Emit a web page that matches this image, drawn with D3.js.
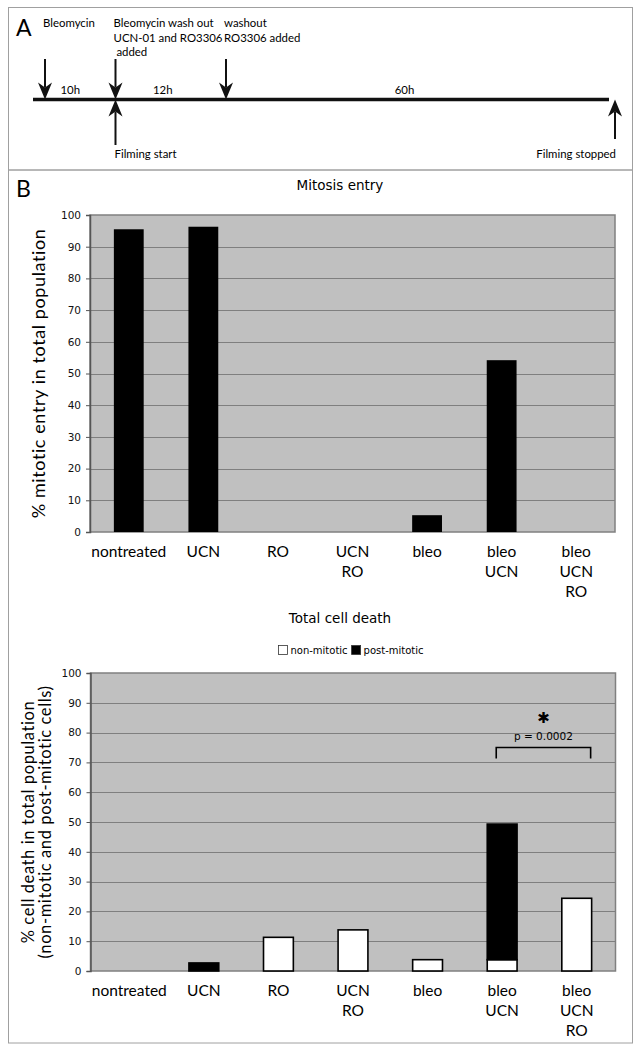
<!DOCTYPE html>
<html>
<head>
<meta charset="utf-8">
<script src="https://cdn.jsdelivr.net/npm/d3@7"></script>
<style>
  body { margin: 0; background: #fff; }
  svg { display: block; }
</style>
</head>
<body>
<div id="figure"></div>
<script>
// Data
const categories = ["nontreated", "UCN", "RO", "UCN RO", "bleo", "bleo UCN", "bleo UCN RO"];
const mitosisEntry = [95.5, 96.3, 0, 0, 5.3, 54.2, 0];
const nonMitoticDeath = [0, 0, 11.3, 13.8, 3.8, 3.8, 24.4];
const postMitoticDeath = [0, 2.7, 0, 0, 0, 45.5, 0];
const yTicks = [0, 10, 20, 30, 40, 50, 60, 70, 80, 90, 100];
const legendLabels = ["non-mitotic", "post-mitotic"];

// Timeline (panel A), hours since bleomycin
const eventHours = [0, 10, 22, 82];
const intervalLabels = ["10h", "12h", "60h"];
const topLabels = [["Bleomycin"], ["Bleomycin wash out", "UCN-01 and RO3306", " added"], ["washout", "RO3306 added"], []];
const bottomLabels = ["", "Filming start", "", "Filming stopped"];

const width = 641;
const height = 1050;
const sansMyriad = "Lato, 'Open Sans', sans-serif";
const sansVerdana = "'DejaVu Sans', Verdana, sans-serif";

const svg = d3.select("#figure")
    .append("svg")
    .attr("width", width)
    .attr("height", height);

// Panel frames
svg.append("rect").attr("x", 8.5).attr("y", 7.5).attr("width", 624).attr("height", 162.5)
    .attr("fill", "none").attr("stroke", "#a0a0a0");
svg.append("rect").attr("x", 8.5).attr("y", 170).attr("width", 624).attr("height", 873)
    .attr("fill", "none").attr("stroke", "#a0a0a0");

// ---------- Panel A: timeline ----------
svg.append("text").attr("x", 16).attr("y", 36).text("A")
    .style("font-family", sansMyriad).style("font-size", "23px");

// schematic, not to scale
const tx = d3.scaleLinear().domain(eventHours).range([45, 115.5, 226, 615]);
const lineY = 99.5;
const labelSize = "11.4px";

svg.append("line").attr("x1", 33).attr("x2", 609).attr("y1", lineY).attr("y2", lineY)
    .attr("stroke", "#111").attr("stroke-width", 3.5);

function arrowHead(x, tipY, dir) {
    // dir = 1 pointing down, -1 pointing up
    const b = tipY - dir * 17;
    const n = tipY - dir * 12;
    return `M${x},${tipY} L${x - 7},${b} L${x},${n} L${x + 7},${b} Z`;
}

eventHours.forEach((h, i) => {
    const x = tx(h);
    if (i < 3) {
        svg.append("line").attr("x1", x).attr("x2", x).attr("y1", 59).attr("y2", lineY - 12)
            .attr("stroke", "#111").attr("stroke-width", 2);
        svg.append("path").attr("d", arrowHead(x, lineY, 1)).attr("fill", "#111");
    }
    if (bottomLabels[i]) {
        svg.append("line").attr("x1", x).attr("x2", x).attr("y1", lineY + 12).attr("y2", i === 3 ? 139 : 145)
            .attr("stroke", "#111").attr("stroke-width", 2);
        svg.append("path").attr("d", arrowHead(x, lineY, -1)).attr("fill", "#111");
        svg.append("text")
            .attr("x", i === 3 ? x + 1 : x - 1)
            .attr("y", 158)
            .attr("text-anchor", i === 3 ? "end" : "start")
            .text(bottomLabels[i])
            .style("font-family", sansMyriad).style("font-size", labelSize);
    }
    topLabels[i].forEach((t, j) => {
        svg.append("text")
            .attr("x", x - 2)
            .attr("y", 27 + j * 14.5)
            .attr("xml:space", "preserve")
            .text(t)
            .style("font-family", sansMyriad).style("font-size", labelSize);
    });
});

intervalLabels.forEach((t, i) => {
    const mid = (tx(eventHours[i]) + tx(eventHours[i + 1])) / 2;
    svg.append("text")
        .attr("x", mid - (i === 0 ? 10 : i === 1 ? 8 : 16))
        .attr("y", 94)
        .attr("text-anchor", "middle")
        .text(t)
        .style("font-family", sansMyriad).style("font-size", labelSize);
});

svg.append("text").attr("x", 16).attr("y", 197).text("B")
    .style("font-family", sansMyriad).style("font-size", "23px");

// ---------- Bar chart helper ----------
function drawChart(box, title, titleY, yLabelLines, yLabelX, yLabelSize, series) {
    const x = d3.scaleBand()
        .domain(categories)
        .range([box.left, box.right])
        .paddingInner(0.6)
        .paddingOuter(0.32);

    const y = d3.scaleLinear()
        .domain([0, 100])
        .range([box.bottom, box.top]);

    // plot background
    svg.append("rect")
        .attr("x", box.left).attr("y", box.top)
        .attr("width", box.right - box.left).attr("height", box.bottom - box.top)
        .attr("fill", "#c0c0c0").attr("stroke", "#808080").attr("stroke-width", 1.5);

    // gridlines
    svg.append("g")
        .selectAll("line")
        .data(yTicks.filter(d => d > 0 && d < 100))
        .enter()
        .append("line")
        .attr("x1", box.left).attr("x2", box.right)
        .attr("y1", d => Math.round(y(d)) + 0.5).attr("y2", d => Math.round(y(d)) + 0.5)
        .attr("stroke", "#7f7f7f").attr("stroke-width", 1.2);

    // bars
    series.forEach(s => {
        svg.append("g")
            .selectAll("rect")
            .data(categories.map((c, i) => ({ c, lo: s.base ? s.base[i] : 0, v: s.values[i] })))
            .enter()
            .filter(d => d.v > 0)
            .append("rect")
            .attr("x", d => x(d.c))
            .attr("width", x.bandwidth())
            .attr("y", d => y(d.lo + d.v))
            .attr("height", d => y(d.lo) - y(d.lo + d.v))
            .attr("fill", s.fill)
            .attr("stroke", "#000")
            .attr("stroke-width", s.stroke);
    });

    // y axis
    const yAxis = d3.axisLeft(y).tickValues(yTicks).tickSize(4).tickPadding(5);
    const ga = svg.append("g")
        .attr("transform", `translate(${box.left}, 0)`)
        .call(yAxis);
    ga.select(".domain").attr("stroke", "#555").attr("stroke-width", 1.5);
    ga.selectAll(".tick line").attr("stroke", "#555");
    ga.selectAll(".tick text")
        .style("font-family", sansVerdana).style("font-size", "10.5px").attr("fill", "#111");

    // x labels (multi-line)
    const gx = svg.append("g");
    categories.forEach(c => {
        const t = gx.append("text")
            .attr("text-anchor", "middle")
            .style("font-family", sansMyriad).style("font-size", "15.5px");
        c.split(" ").forEach((w, j) => {
            t.append("tspan")
                .attr("x", x(c) + x.bandwidth() / 2)
                .attr("y", box.bottom + 25 + j * 20)
                .text(w);
        });
    });

    // title
    svg.append("text")
        .attr("x", 340).attr("y", titleY)
        .attr("text-anchor", "middle")
        .text(title)
        .style("font-family", sansVerdana).style("font-size", "13.5px");

    // y label
    const midY = (box.top + box.bottom) / 2;
    yLabelLines.forEach((l, j) => {
        svg.append("text")
            .attr("transform", `translate(${yLabelX[j]}, ${midY}) rotate(-90)`)
            .attr("text-anchor", "middle")
            .attr("dominant-baseline", "middle")
            .text(l)
            .style("font-family", sansMyriad).style("font-size", yLabelSize)
            .style("letter-spacing", "0.6px");
    });

    return { x, y };
}

// ---------- Chart 1: Mitosis entry ----------
drawChart(
    { left: 90, right: 615, top: 215, bottom: 532 },
    "Mitosis entry", 190,
    ["% mitotic entry in total population"], [40], "18px",
    [{ values: mitosisEntry, fill: "#000", stroke: 0 }]
);

// ---------- Chart 2: Total cell death ----------
const c2 = drawChart(
    { left: 90.5, right: 615.5, top: 673, bottom: 971 },
    "Total cell death", 623,
    ["% cell death in total population", "(non-mitotic and post-mitotic cells)"], [30, 47], "16.5px",
    [
        { values: nonMitoticDeath, fill: "#fff", stroke: 1.6 },
        { values: postMitoticDeath, base: nonMitoticDeath, fill: "#000", stroke: 1.6 }
    ]
);

// legend
const legend = svg.append("g");
let lx = 0;
legendLabels.forEach((l, i) => {
    legend.append("rect")
        .attr("x", lx).attr("y", -4.5).attr("width", 9).attr("height", 9)
        .attr("fill", i === 0 ? "#fff" : "#000").attr("stroke", "#333").attr("stroke-width", 0.8);
    const t = legend.append("text")
        .attr("x", lx + 12).attr("y", 4)
        .text(l)
        .style("font-family", sansVerdana).style("font-size", "10px");
    lx += 12 + t.node().getComputedTextLength() + 4;
});
legend.attr("transform", `translate(${353 - lx / 2}, 650)`);

// significance bracket
const bx1 = c2.x("bleo UCN") + 9;
const bx2 = c2.x("bleo UCN RO") + c2.x.bandwidth() - 1;
const by = c2.y(75);
svg.append("path")
    .attr("d", `M${bx1},${by + 11} V${by} H${bx2} V${by + 11}`)
    .attr("fill", "none").attr("stroke", "#000").attr("stroke-width", 1.6);
svg.append("text")
    .attr("x", (bx1 + bx2) / 2).attr("y", c2.y(77.5))
    .attr("text-anchor", "middle")
    .text("p = 0.0002")
    .style("font-family", sansVerdana).style("font-size", "10.5px");
svg.append("text")
    .attr("x", (bx1 + bx2) / 2).attr("y", c2.y(83.3))
    .attr("text-anchor", "middle")
    .text("\u2731")
    .style("font-family", sansVerdana).style("font-size", "15px");
</script>
</body>
</html>
